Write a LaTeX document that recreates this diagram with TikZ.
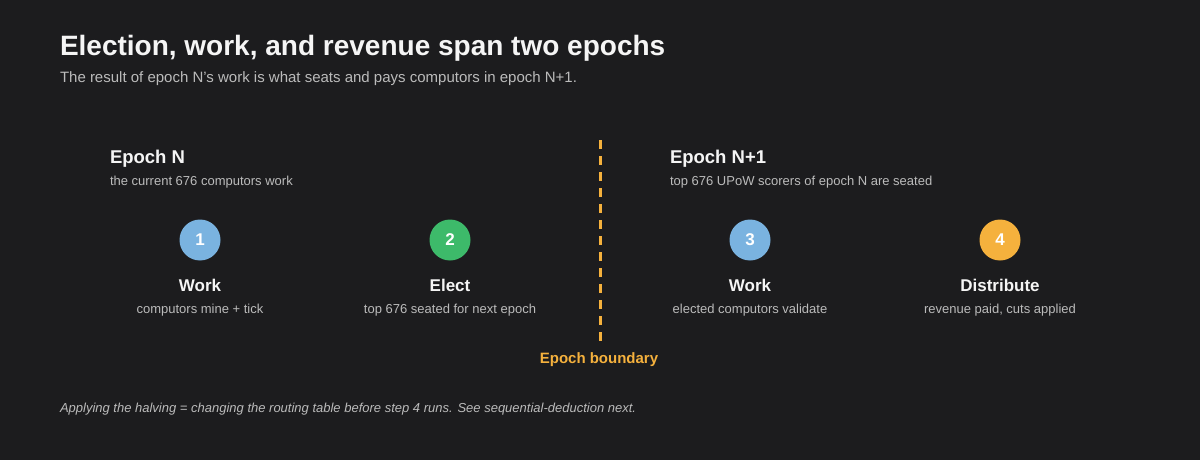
\documentclass[tikz,border=0pt]{standalone}
\usepackage{fontspec}
\setmainfont{Liberation Sans}
\definecolor{bg}{HTML}{1C1C1E}
\definecolor{fg}{HTML}{F5F5F5}
\definecolor{muted}{HTML}{BBBBBB}
\definecolor{cblue}{HTML}{7AB3E0}
\definecolor{cgreen}{HTML}{3DBA6A}
\definecolor{corange}{HTML}{F5B13D}
\begin{document}
\begin{tikzpicture}[x=1pt,y=-1pt,
  every node/.style={inner sep=0pt, outer sep=0pt},
  titletext/.style={anchor=base west, text=fg, font=\fontsize{28}{32}\selectfont\bfseries},
  subtext/.style={anchor=base west, text=muted, font=\fontsize{15}{18}\selectfont},
  epochhead/.style={anchor=base west, text=fg, font=\fontsize{18.5}{22}\selectfont\bfseries},
  epochsub/.style={anchor=base west, text=muted, font=\fontsize{13}{16}\selectfont},
  stepcircle/.style={circle, minimum size=41pt, text=white, font=\fontsize{17}{20}\selectfont\bfseries},
  steplabel/.style={anchor=base, text=fg, font=\fontsize{17}{20}\selectfont\bfseries},
  stepsub/.style={anchor=base, text=muted, font=\fontsize{13}{16}\selectfont},
  boundary/.style={draw=corange, line width=3pt, dash pattern=on 9pt off 7pt},
  boundarylabel/.style={anchor=base, text=corange, font=\fontsize{15}{18}\selectfont\bfseries},
  foot/.style={anchor=base west, text=muted, font=\fontsize{13}{16}\selectfont\itshape}]
\fill[bg] (0,0) rectangle (1200,460);
\useasboundingbox (0,0) rectangle (1200,460);
\node[titletext] (title) at (60,56) {Election, work, and revenue span two epochs};
\node[subtext] (subtitle) at (60,82) {The result of epoch N's work is what seats and pays computors in epoch N+1.};
\node[epochhead] (eN) at (110,163) {Epoch N};
\node[epochsub] (eNs) at (110,185) {the current 676 computors work};
\node[epochhead] (eN1) at (670,163) {Epoch N+1};
\node[epochsub] (eN1s) at (670,185) {top 676 UPoW scorers of epoch N are seated};
\node[stepcircle, fill=cblue] (c1) at (200,240) {1};
\node[stepcircle, fill=cgreen] (c2) at (450,240) {2};
\node[stepcircle, fill=cblue] (c3) at (750,240) {3};
\node[stepcircle, fill=corange] (c4) at (1000,240) {4};
\node[steplabel] (l1) at (200,291) {Work};
\node[steplabel] (l2) at (450,291) {Elect};
\node[steplabel] (l3) at (750,291) {Work};
\node[steplabel] (l4) at (1000,291) {Distribute};
\node[stepsub] (s1) at (200,313) {computors mine + tick};
\node[stepsub] (s2) at (450,313) {top 676 seated for next epoch};
\node[stepsub] (s3) at (750,313) {elected computors validate};
\node[stepsub] (s4) at (1000,313) {revenue paid, cuts applied};
\coordinate (btop) at (600.5,140);
\coordinate (bbot) at (600.5,342);
\draw[boundary] (btop) -- (bbot);
\node[boundarylabel] (bl) at (599,363) {Epoch boundary};
\node[foot] (footer) at (60,412) {Applying the halving = changing the routing table before step 4 runs. See sequential-deduction next.};
\end{tikzpicture}
\end{document}
